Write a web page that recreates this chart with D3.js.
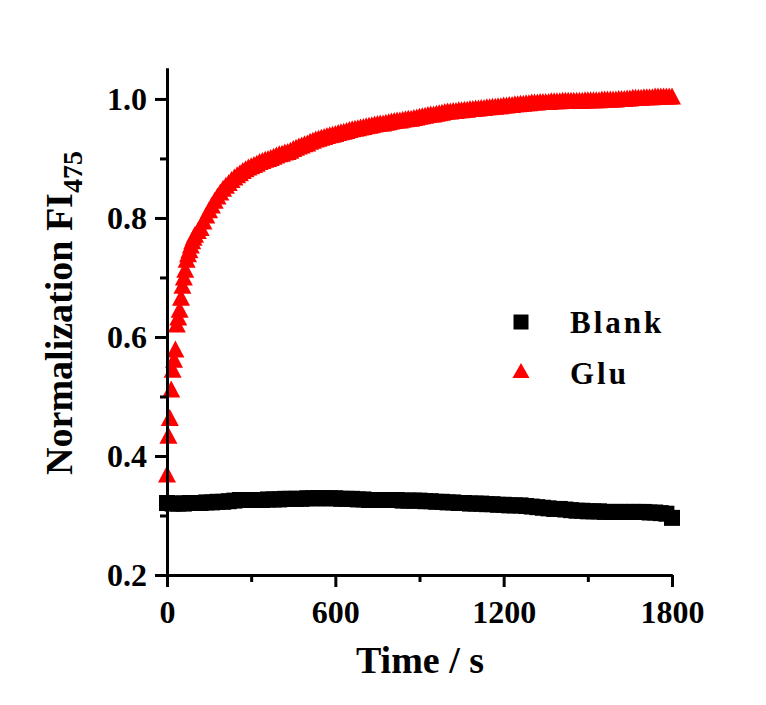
<!DOCTYPE html>
<html>
<head>
<meta charset="utf-8">
<script src="https://cdn.jsdelivr.net/npm/d3@7"></script>
<style>
  html, body { margin: 0; padding: 0; background: #fff; }
  text { font-family: "Liberation Serif", "Times New Roman", serif; font-weight: bold; fill: #000; }
</style>
</head>
<body>
<svg id="chart" width="766" height="705"></svg>
<script>
// ---------------- data ----------------
const blankTime = [0,20,40,60,80,100,120,140,160,180,200,220,240,260,280,300,320,340,360,380,400,420,440,460,480,500,520,540,560,580,600,620,640,660,680,700,720,740,760,780,800,820,840,860,880,900,920,940,960,980,1000,1020,1040,1060,1080,1100,1120,1140,1160,1180,1200,1220,1240,1260,1280,1300,1320,1340,1360,1380,1400,1420,1440,1460,1480,1500,1520,1540,1560,1580,1600,1620,1640,1660,1680,1700,1720,1740,1760,1780,1800];
const blankValue = [0.321,0.320,0.320,0.320,0.321,0.321,0.321,0.322,0.322,0.323,0.323,0.324,0.325,0.326,0.326,0.326,0.326,0.326,0.327,0.327,0.327,0.328,0.328,0.328,0.328,0.329,0.329,0.329,0.329,0.329,0.329,0.328,0.328,0.328,0.327,0.327,0.326,0.326,0.326,0.326,0.326,0.326,0.325,0.325,0.325,0.325,0.324,0.324,0.323,0.323,0.322,0.322,0.321,0.321,0.320,0.320,0.320,0.319,0.319,0.318,0.318,0.317,0.317,0.317,0.316,0.315,0.314,0.313,0.312,0.311,0.311,0.310,0.309,0.308,0.308,0.307,0.307,0.307,0.306,0.306,0.306,0.306,0.306,0.306,0.306,0.306,0.305,0.305,0.304,0.303,0.296];

const gluTime = [0,5,10,15,20,25,30,35,40,45,50,55,60,65,70,75,80,85,90,95,
  100,110,120,130,140,150,160,170,180,190,200,210,220,230,240,250,260,270,280,290,
  300,310,320,330,340,350,360,370,380,390,400,410,420,430,440,450,460,470,480,490,
  500,510,520,530,540,550,560,570,580,590,600,610,620,630,640,650,660,670,680,690,
  700,710,720,730,740,750,760,770,780,790,800,810,820,830,840,850,860,870,880,890,
  900,910,920,930,940,950,960,970,980,990,1000,1010,1020,1030,1040,1050,1060,1070,1080,1090,
  1100,1110,1120,1130,1140,1150,1160,1170,1180,1190,1200,1210,1220,1230,1240,1250,1260,1270,1280,1290,
  1300,1310,1320,1330,1340,1350,1360,1370,1380,1390,1400,1410,1420,1430,1440,1450,1460,1470,1480,1490,
  1500,1510,1520,1530,1540,1550,1560,1570,1580,1590,1600,1610,1620,1630,1640,1650,1660,1670,1680,1690,
  1700,1710,1720,1730,1740,1750,1760,1770,1780,1790,1800];
const gluValue = [0.365,0.430,0.460,0.508,0.541,0.558,0.575,0.617,0.629,0.642,0.662,0.682,0.696,0.709,0.726,0.735,0.742,0.750,0.757,0.763,
  0.768,0.774,0.779,0.790,0.800,0.809,0.817,0.825,0.832,0.839,0.845,0.850,0.855,0.860,0.864,0.868,0.871,0.875,0.878,0.881,
  0.883,0.885,0.887,0.890,0.892,0.894,0.895,0.897,0.899,0.901,0.903,0.904,0.906,0.907,0.909,0.912,0.914,0.916,0.918,0.920,
  0.921,0.924,0.926,0.928,0.929,0.931,0.932,0.934,0.935,0.936,0.937,0.939,0.940,0.941,0.942,0.944,0.945,0.946,0.947,0.948,
  0.949,0.950,0.951,0.952,0.953,0.954,0.955,0.955,0.956,0.957,0.958,0.959,0.960,0.960,0.961,0.962,0.963,0.963,0.964,0.965,
  0.966,0.967,0.968,0.969,0.970,0.970,0.971,0.972,0.973,0.974,0.975,0.975,0.976,0.976,0.977,0.977,0.978,0.978,0.979,0.979,
  0.980,0.980,0.981,0.981,0.982,0.982,0.983,0.983,0.984,0.984,0.985,0.985,0.986,0.986,0.987,0.987,0.988,0.988,0.989,0.989,
  0.990,0.990,0.990,0.991,0.991,0.991,0.991,0.992,0.992,0.992,0.992,0.993,0.993,0.993,0.993,0.993,0.993,0.993,0.993,0.994,
  0.994,0.994,0.994,0.994,0.994,0.995,0.995,0.995,0.995,0.995,0.995,0.996,0.996,0.996,0.997,0.997,0.998,0.998,0.998,0.998,
  0.999,0.999,0.999,0.999,1.000,1.000,1.000,1.000,1.000,1.000,1.000];

const yMajor = [0.2, 0.4, 0.6, 0.8, 1.0];
const yMinor = [0.3, 0.5, 0.7, 0.9];
const xMajor = [0, 600, 1200, 1800];
const xMinor = [300, 900, 1500];

const seriesNames = ["Blank", "Glu"];
const seriesColors = ["#000000", "#ff0000"];

// ---------------- layout ----------------
const svg = d3.select("#chart");
const x = d3.scaleLinear().domain([0, 1800]).range([167, 672]);
const y = d3.scaleLinear().domain([0.2, 1.052]).range([575, 68]);

// marker shapes
const sq = d3.symbol().type(d3.symbolSquare).size(256);
const triType = {
  draw(ctx, size) {
    const w = 9, h = 17; // half-width, height
    ctx.moveTo(0, -h * 2 / 3);
    ctx.lineTo(w, h / 3);
    ctx.lineTo(-w, h / 3);
    ctx.closePath();
  }
};
const tri = d3.symbol().type(triType).size(1);
const triLegendType = {
  draw(ctx, size) {
    const w = 8.5, h = 15;
    ctx.moveTo(0, -h * 2 / 3);
    ctx.lineTo(w, h / 3);
    ctx.lineTo(-w, h / 3);
    ctx.closePath();
  }
};
const triLegend = d3.symbol().type(triLegendType).size(1);
const sqLegend = d3.symbol().type(d3.symbolSquare).size(225);

const blank = blankTime.map((t, i) => ({t, v: blankValue[i]}));
const glu = gluTime.map((t, i) => ({t, v: gluValue[i]}));

svg.append("g").selectAll("path").data(blank).join("path")
  .attr("d", sq)
  .attr("transform", d => `translate(${x(d.t)},${y(d.v)})`)
  .attr("fill", seriesColors[0]);

svg.append("g").selectAll("path").data(glu).join("path")
  .attr("d", tri)
  .attr("transform", d => `translate(${x(d.t)},${y(d.v)})`)
  .attr("fill", seriesColors[1]);

// axes
function styleAxis(g) {
  g.selectAll("path.domain").attr("stroke", "#000").attr("stroke-width", 3);
  g.selectAll(".tick line").attr("stroke", "#000").attr("stroke-width", 3);
  g.selectAll(".tick text").style("font-size", "32px").style("font-family", "Liberation Serif").style("font-weight", "bold").attr("fill", "#000");
}

const gyMinor = svg.append("g").attr("transform", `translate(${x(0)},0)`)
  .call(d3.axisLeft(y).tickValues(yMinor).tickSize(7).tickSizeOuter(0).tickFormat(""));
styleAxis(gyMinor);
const gy = svg.append("g").attr("transform", `translate(${x(0)},0)`)
  .call(d3.axisLeft(y).tickValues(yMajor).tickSize(12).tickSizeOuter(0).tickPadding(8).tickFormat(d3.format(".1f")));
styleAxis(gy);

const gxMinor = svg.append("g").attr("transform", `translate(0,${y(0.2)})`)
  .call(d3.axisBottom(x).tickValues(xMinor).tickSize(7).tickSizeOuter(0).tickFormat(""));
styleAxis(gxMinor);
const gx = svg.append("g").attr("transform", `translate(0,${y(0.2)})`)
  .call(d3.axisBottom(x).tickValues(xMajor).tickSize(12).tickSizeOuter(0).tickPadding(13).tickFormat(d3.format("d")));
styleAxis(gx);

// axis titles
svg.append("text")
  .attr("x", 420).attr("y", 673)
  .attr("text-anchor", "middle")
  .style("font-size", "38px")
  .text("Time / s");

const yt = svg.append("text")
  .attr("transform", "translate(72,313) rotate(-90)")
  .attr("text-anchor", "middle")
  .style("font-size", "38px");
yt.append("tspan").text("Normalization FI");
yt.append("tspan").attr("dy", 10).style("font-size", "28px").text("475");

// legend
const legend = svg.append("g");
const legY = [322, 373];
const legSym = [sqLegend, triLegend];
seriesNames.forEach((name, i) => {
  legend.append("path").attr("d", legSym[i])
    .attr("transform", `translate(521,${legY[i]})`)
    .attr("fill", seriesColors[i]);
  legend.append("text").attr("x", 570).attr("y", legY[i] + 11)
    .style("font-size", "31px").style("letter-spacing", "3px")
    .text(name);
});
</script>
</body>
</html>
